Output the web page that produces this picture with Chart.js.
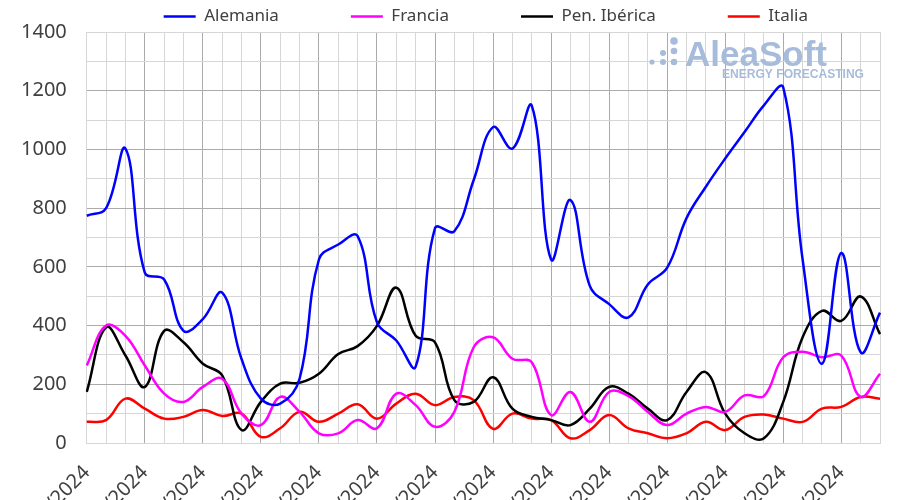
<!DOCTYPE html>
<html lang="es">
<head>
<meta charset="utf-8">
<title>Producción eólica diaria</title>
<script src="https://cdn.jsdelivr.net/npm/chart.js@4.4.1/dist/chart.umd.min.js"></script>
<style>
    html, body { margin: 0; padding: 0; background: #ffffff; overflow: hidden; }
    #wrap { position: relative; width: 900px; height: 500px; }
</style>
</head>
<body>
<div id="wrap"><canvas id="windChart"></canvas></div>
<script>
// Chart data (GWh per day)
const dates = [
    '30/09/2024', '01/10/2024', '02/10/2024', '03/10/2024', '04/10/2024', '05/10/2024',
    '06/10/2024', '07/10/2024', '08/10/2024', '09/10/2024', '10/10/2024', '11/10/2024',
    '12/10/2024', '13/10/2024', '14/10/2024', '15/10/2024', '16/10/2024', '17/10/2024',
    '18/10/2024', '19/10/2024', '20/10/2024', '21/10/2024', '22/10/2024', '23/10/2024',
    '24/10/2024', '25/10/2024', '26/10/2024', '27/10/2024', '28/10/2024', '29/10/2024',
    '30/10/2024', '31/10/2024', '01/11/2024', '02/11/2024', '03/11/2024', '04/11/2024',
    '05/11/2024', '06/11/2024', '07/11/2024', '08/11/2024', '09/11/2024', '10/11/2024'
];

const alemania = [
    774, 800, 1003, 580, 557, 382, 422, 512, 286, 151, 134, 219, 625, 676,
    705, 411, 349, 260, 732, 721, 896, 1076, 1003, 1149, 625, 828, 535, 473,
    428, 540, 597, 766, 873, 969, 1059, 1150, 1211, 625, 270, 647, 309, 444
];

const francia = [
    264, 400, 365, 264, 168, 140, 191, 219, 100, 61, 157, 106, 33, 33,
    78, 50, 168, 129, 55, 106, 326, 360, 287, 275, 95, 174, 72, 174,
    160, 106, 61, 100, 123, 106, 162, 160, 292, 311, 292, 298, 157, 236
];

const penIberica = [
    174, 394, 298, 191, 382, 343, 270, 230, 44, 140, 202, 205, 236, 303,
    330, 399, 529, 365, 343, 146, 140, 224, 117, 89, 78, 61, 117, 191,
    168, 117, 78, 174, 241, 100, 33, 16, 140, 360, 450, 416, 499, 371
];

const italia = [
    72, 78, 151, 117, 83, 89, 112, 92, 100, 21, 50, 106, 72, 100,
    132, 83, 134, 168, 129, 157, 146, 48, 100, 83, 78, 16, 44, 95,
    50, 33, 16, 33, 72, 44, 89, 97, 83, 72, 117, 123, 157, 151
];

const yLabels = [0, 200, 400, 600, 800, 1000, 1200, 1400];

// Styling
const textColor = '#404040';
const gridMajor = '#ababab';
const gridMinor = '#d6d6d6';
const tickFont = { family: 'Noto Sans', size: 20 };

function makeSeries(label, values, color) {
    return {
        label: label,
        data: values,
        borderColor: color,
        backgroundColor: color,
        borderWidth: 2.5,
        pointRadius: 0,
        pointHoverRadius: 0,
        tension: 0.4,
        fill: false
    };
}

// Wide item spacing in the legend without a tall legend box
const legendGap = {
    id: 'legendGap',
    beforeInit(chart) {
        const fit = chart.legend.fit;
        chart.legend.fit = function () {
            fit.call(this);
            this.height -= 3;
        };
    }
};

// AleaSoft watermark, drawn behind the lines
const watermark = {
    id: 'watermark',
    beforeDatasetsDraw(chart) {
        const ctx = chart.ctx;
        ctx.save();
        ctx.fillStyle = '#a7bcda';
        const dots = [[652, 62, 2.6], [663, 53, 3], [663, 62, 3], [674, 41, 3.8], [674, 51, 3.3], [674, 62, 3.3]];
        dots.forEach(([x, y, r]) => {
            ctx.beginPath();
            ctx.arc(x, y, r, 0, Math.PI * 2);
            ctx.fill();
        });
        ctx.textAlign = 'left';
        ctx.textBaseline = 'alphabetic';
        ctx.font = 'bold 35px "Liberation Sans"';
        ctx.fillText('AleaSoft', 685, 66, 143);
        ctx.font = 'bold 13px "Liberation Sans"';
        ctx.fillText('ENERGY FORECASTING', 722, 78, 142);
        ctx.restore();
    }
};

const ctx = document.getElementById('windChart').getContext('2d');

const chart = new Chart(ctx, {
    type: 'line',
    data: {
        labels: dates,
        datasets: [
            makeSeries('Alemania', alemania, '#0000ff'),
            makeSeries('Francia', francia, '#ff00ff'),
            makeSeries('Pen. Ibérica', penIberica, '#000000'),
            makeSeries('Italia', italia, '#ff0000')
        ]
    },
    options: {
        responsive: true,
        maintainAspectRatio: false,
        animation: false,
        layout: {
            padding: { top: -66.5, left: 1, right: 20, bottom: 0 }
        },
        plugins: {
            legend: {
                position: 'top',
                align: 'end',
                labels: {
                    color: textColor,
                    font: { family: 'Noto Sans', size: 17 },
                    usePointStyle: true,
                    pointStyle: 'line',
                    pointStyleWidth: 32,
                    padding: 72
                }
            },
            tooltip: { enabled: false }
        },
        scales: {
            x: {
                offset: false,
                grid: {
                    drawTicks: false,
                    lineWidth: 1,
                    color: (c) => (c.index % 3 === 0 && c.index > 0) ? gridMajor : gridMinor
                },
                border: { color: gridMinor },
                ticks: {
                    color: textColor,
                    font: tickFont,
                    autoSkip: false,
                    minRotation: 45,
                    maxRotation: 45,
                    padding: 18,
                    callback: function (value, index) {
                        return index % 3 === 0 ? this.getLabelForValue(value) : '';
                    }
                },
                // the axis is cut by the bottom edge of the picture
                afterFit: (scale) => {
                    scale.height = 57;
                    scale.paddingLeft = 0;
                    scale.paddingRight = 0;
                }
            },
            y: {
                min: 0,
                max: 1400,
                grid: {
                    drawTicks: false,
                    lineWidth: 1,
                    color: (c) => {
                        const v = c.tick.value;
                        return (v % 200 === 0 && v > 0 && v < 1400) ? gridMajor : gridMinor;
                    }
                },
                border: { color: gridMinor },
                ticks: {
                    stepSize: 100,
                    color: textColor,
                    font: tickFont,
                    padding: 20,
                    callback: (value) => yLabels.includes(value) ? value : ''
                }
            }
        }
    },
    plugins: [legendGap, watermark]
});
</script>
</body>
</html>
